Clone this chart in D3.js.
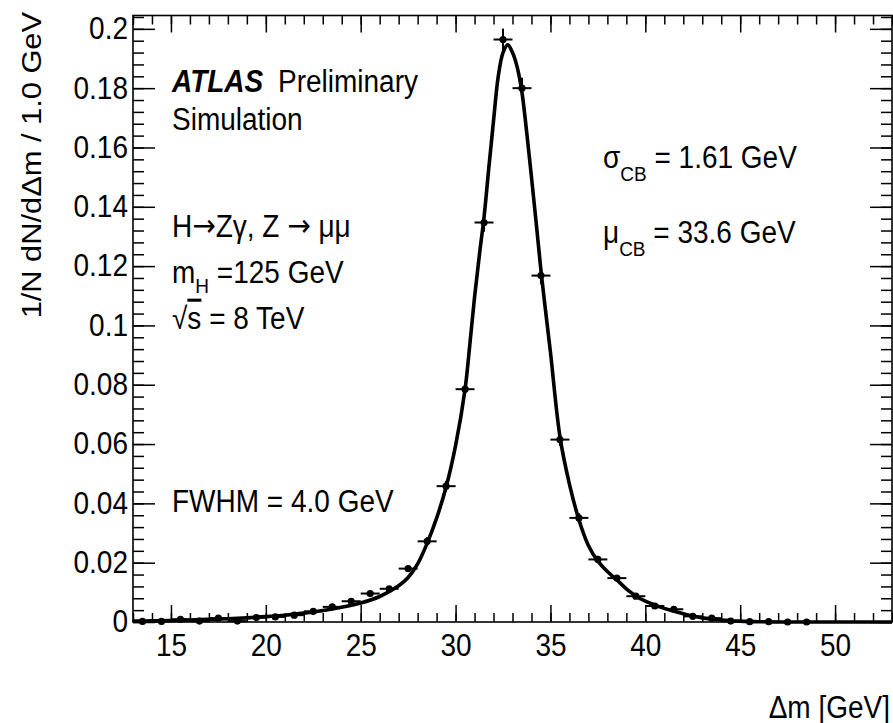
<!DOCTYPE html>
<html>
<head>
<meta charset="utf-8">
<script src="https://cdn.jsdelivr.net/npm/d3@7"></script>
<style>
  html, body { margin: 0; padding: 0; background: #fff; }
  svg text { font-family: "Liberation Sans", Arial, Helvetica, sans-serif; fill: #000; }
</style>
</head>
<body>
<svg id="chart" width="893" height="723"></svg>
<script>
// ---- data ----
const binCenters = [13.5,14.5,15.5,16.5,17.5,18.5,19.5,20.5,21.5,22.5,23.5,24.5,25.5,26.5,27.5,28.5,29.5,30.5,31.5,32.5,33.5,34.5,35.5,36.5,37.5,38.5,39.5,40.5,41.5,42.5,43.5,44.5,45.5,46.5,47.5,48.5];
const binValues  = [0.0002,0.0002,0.0009,0.0003,0.0013,0.0003,0.0015,0.0017,0.0023,0.0036,0.0051,0.0070,0.0096,0.0112,0.0180,0.0272,0.0458,0.0785,0.1347,0.1964,0.1800,0.1168,0.0615,0.0351,0.0211,0.0148,0.0087,0.0054,0.0043,0.0019,0.0013,0.0003,0.0001,0.0001,0.0,0.0];
const binErrors  = [0.0001,0.0001,0.0003,0.0001,0.0003,0.0001,0.0003,0.0003,0.0004,0.0005,0.0006,0.0007,0.0008,0.0009,0.0011,0.0014,0.0018,0.0023,0.0031,0.0037,0.0035,0.0029,0.0021,0.0016,0.0012,0.0010,0.0008,0.0006,0.0005,0.0004,0.0003,0.0001,0.0001,0.0001,0.0,0.0];
const binWidth = 1.0;

const fitX = [13,14,15,16,17,18,19,20,21,22,23,24,25,26,27,27.5,28,28.5,29,29.5,30,30.5,30.75,31,31.25,31.5,31.75,32,32.25,32.5,32.75,33,33.25,33.5,33.75,34,34.25,34.5,34.75,35,35.5,36,36.5,37,37.5,38,38.5,39,39.5,40,40.5,41,41.5,42,42.5,43,44,45,46,47,50,53];
const fitY = [0.0003,0.0004,0.0005,0.0007,0.0009,0.0011,0.0014,0.0018,0.0023,0.0030,0.0039,0.0050,0.0064,0.0086,0.0122,0.0150,0.0196,0.0265,0.0350,0.0455,0.0595,0.0785,0.0935,0.1095,0.1235,0.1365,0.1530,0.1690,0.1840,0.1920,0.1946,0.1920,0.1870,0.1785,0.1650,0.1500,0.1345,0.1185,0.1045,0.0910,0.0625,0.0465,0.0345,0.0258,0.0205,0.0170,0.0142,0.0112,0.0088,0.0070,0.0057,0.0046,0.0037,0.0028,0.0020,0.0014,0.0007,0.0003,0.0001,0.0,0.0,0.0];

const xDomain = [13, 53];
const yDomain = [0, 0.2045];
const xMajorTicks = [15,20,25,30,35,40,45,50];
const xMinorTicks = d3.range(13, 54, 1);
const yMajorTicks = [0,0.02,0.04,0.06,0.08,0.1,0.12,0.14,0.16,0.18,0.2];
const yTickLabels = ["0","0.02","0.04","0.06","0.08","0.1","0.12","0.14","0.16","0.18","0.2"];
const yMinorTicks = d3.range(0, 0.2041, 0.004);

// ---- layout ----
const L = 133, R = 892, T = 15.5, B = 622;
const STRETCH = 1.1;   // glyphs in the reference are slightly taller than wide
const svg = d3.select("#chart");
const x = d3.scaleLinear().domain(xDomain).range([L, R]);
const y = d3.scaleLinear().domain(yDomain).range([B, T]);

const FS = 28;

function styleAxis(g) {
  g.select(".domain").remove();
  g.selectAll("line").attr("stroke", "#000").attr("stroke-width", 1.5);
  g.selectAll("text").attr("font-size", FS).attr("fill", "#000")
    .attr("transform", `scale(1,${STRETCH})`);
}

// bottom minor + major
svg.append("g").attr("transform", `translate(0,${B})`)
  .call(d3.axisBottom(x).tickValues(xMinorTicks).tickSize(-9).tickFormat(""))
  .call(styleAxis);
svg.append("g").attr("transform", `translate(0,${B})`)
  .call(d3.axisBottom(x).tickValues(xMajorTicks).tickSize(-17).tickPadding(11).tickFormat(d3.format("d")))
  .call(styleAxis);
// top
svg.append("g").attr("transform", `translate(0,${T})`)
  .call(d3.axisTop(x).tickValues(xMinorTicks).tickSize(-9).tickFormat(""))
  .call(styleAxis);
svg.append("g").attr("transform", `translate(0,${T})`)
  .call(d3.axisTop(x).tickValues(xMajorTicks).tickSize(-17).tickFormat(""))
  .call(styleAxis);
// left
svg.append("g").attr("transform", `translate(${L},0)`)
  .call(d3.axisLeft(y).tickValues(yMinorTicks).tickSize(-11).tickFormat(""))
  .call(styleAxis);
svg.append("g").attr("transform", `translate(${L},0)`)
  .call(d3.axisLeft(y).tickValues(yMajorTicks).tickSize(-22).tickPadding(5)
        .tickFormat((d, i) => yTickLabels[i]))
  .call(styleAxis);
// right
svg.append("g").attr("transform", `translate(${R},0)`)
  .call(d3.axisRight(y).tickValues(yMinorTicks).tickSize(-11).tickFormat(""))
  .call(styleAxis);
svg.append("g").attr("transform", `translate(${R},0)`)
  .call(d3.axisRight(y).tickValues(yMajorTicks).tickSize(-22).tickFormat(""))
  .call(styleAxis);

// frame
svg.append("rect").attr("x", L).attr("y", T).attr("width", R - L).attr("height", B - T)
  .attr("fill", "none").attr("stroke", "#000").attr("stroke-width", 1.6);

// data points
const pts = binCenters.map((c, i) => ({c, v: binValues[i], e: binErrors[i]}));

// fit curve
const line = d3.line().x((d, i) => x(fitX[i])).y((d) => y(d)).curve(d3.curveCatmullRom.alpha(0.5));
svg.append("path").attr("d", line(fitY))
  .attr("fill", "none").attr("stroke", "#000").attr("stroke-width", 3.6).attr("stroke-linejoin", "round");

const gPts = svg.append("g");
gPts.selectAll("line.h").data(pts).enter().append("line").attr("class", "h")
  .attr("x1", d => x(d.c - binWidth / 2)).attr("x2", d => x(d.c + binWidth / 2))
  .attr("y1", d => y(d.v)).attr("y2", d => y(d.v))
  .attr("stroke", "#000").attr("stroke-width", 2);
gPts.selectAll("line.v").data(pts).enter().append("line").attr("class", "v")
  .attr("x1", d => x(d.c)).attr("x2", d => x(d.c))
  .attr("y1", d => y(d.v - d.e)).attr("y2", d => y(d.v + d.e))
  .attr("stroke", "#000").attr("stroke-width", 2);
gPts.selectAll("circle").data(pts).enter().append("circle")
  .attr("cx", d => x(d.c)).attr("cy", d => y(d.v)).attr("r", 3.6).attr("fill", "#000");

// text helper: baseline anchored, slightly stretched vertically
function addText(px, py, size) {
  return svg.append("text")
    .attr("transform", `translate(${px},${py}) scale(1,${STRETCH})`)
    .attr("font-size", size);
}

// axis titles
svg.append("text").attr("transform", `translate(41,12) rotate(-90) scale(${STRETCH},1)`)
  .attr("text-anchor", "end").attr("font-size", FS).text("1/N dN/dΔm / 1.0 GeV");
addText(890, 718, FS).attr("text-anchor", "end").text("Δm [GeV]");

// labels
const TS = 28;
addText(172, 92, TS).attr("font-weight", "bold").attr("font-style", "italic").text("ATLAS");
addText(278, 92, TS).text("Preliminary");
addText(172, 130, TS).text("Simulation");

const hz = addText(172, 237, TS);
hz.append("tspan").text("H");
hz.append("tspan").attr("font-family", "DejaVu Sans").attr("font-size", 28).attr("dy", -1).text("→");
hz.append("tspan").attr("dy", 1).text("Zγ, Z ");
hz.append("tspan").attr("font-family", "DejaVu Sans").attr("font-size", 28).attr("dy", -1).text("→");
hz.append("tspan").attr("dy", 1).text(" μμ");

const mh = addText(172, 283, TS);
mh.append("tspan").text("m");
mh.append("tspan").attr("dy", 9).attr("font-size", 19).text("H");
mh.append("tspan").attr("dy", -9).text(" =125 GeV");

const rs = addText(172, 329, TS);
rs.append("tspan").text("√");
rs.append("tspan").attr("text-decoration", "overline").text("s");
rs.append("tspan").text(" = 8 TeV");

addText(172, 512, TS).text("FWHM = 4.0 GeV");

const sg = addText(603, 168, TS);
sg.append("tspan").text("σ");
sg.append("tspan").attr("dy", 12).attr("font-size", 19).text("CB");
sg.append("tspan").attr("dy", -12).text(" = 1.61 GeV");

const mu = addText(603, 243, TS);
mu.append("tspan").text("μ");
mu.append("tspan").attr("dy", 12).attr("font-size", 19).text("CB");
mu.append("tspan").attr("dy", -12).text(" = 33.6 GeV");
</script>
</body>
</html>
